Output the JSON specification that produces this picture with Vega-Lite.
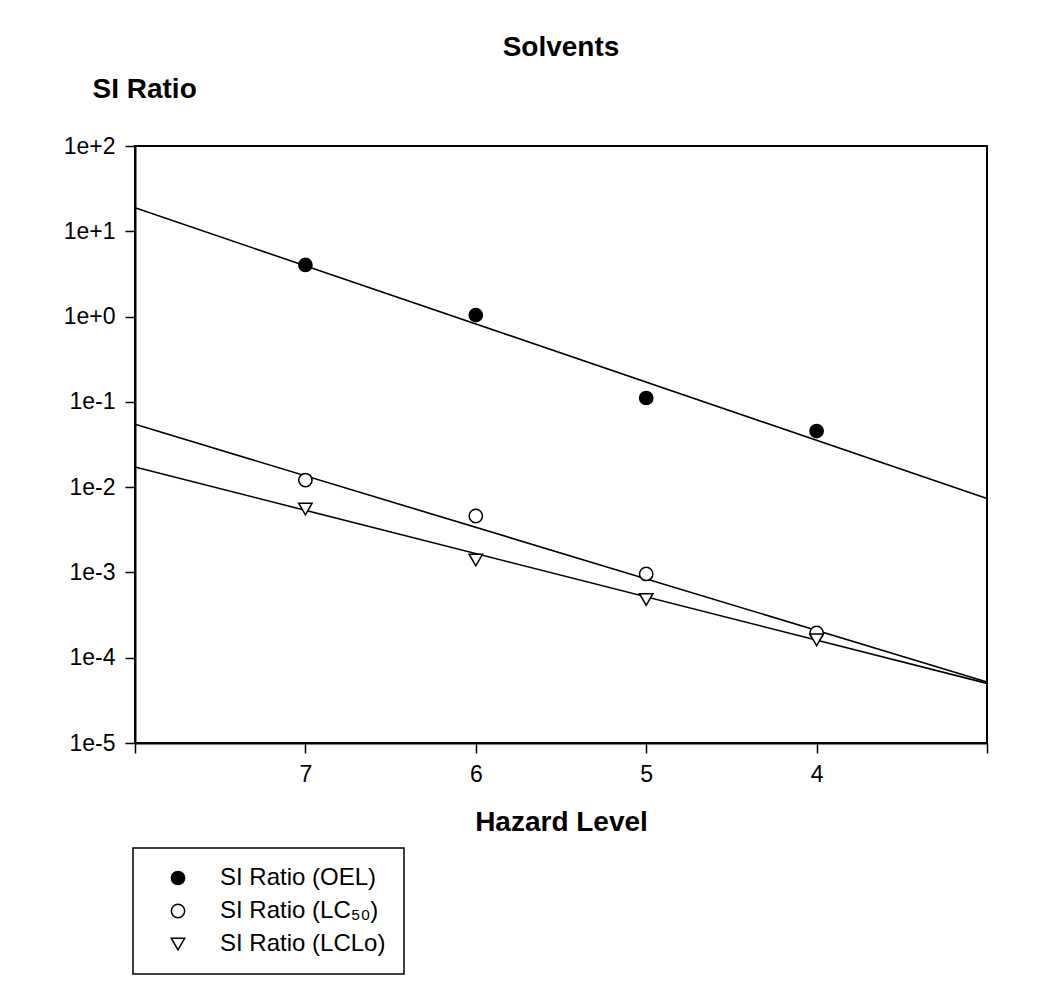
{
  "$schema": "https://vega.github.io/schema/vega-lite/v6.json",
  "width": 852,
  "height": 597,
  "autosize": {"type": "none"},
  "padding": {"left": 135, "top": 146, "right": 55, "bottom": 247},
  "background": "white",
  "title": {
    "text": "Solvents",
    "font": "Liberation Sans",
    "fontSize": 28,
    "fontWeight": "bold",
    "color": "black",
    "anchor": "middle",
    "baseline": "alphabetic",
    "offset": -9
  },
  "datasets": {
    "points": [
      {"hazard": 7, "ratio": 4.03, "series": "SI Ratio (OEL)"},
      {"hazard": 6, "ratio": 1.04, "series": "SI Ratio (OEL)"},
      {"hazard": 5, "ratio": 0.111, "series": "SI Ratio (OEL)"},
      {"hazard": 4, "ratio": 0.0455, "series": "SI Ratio (OEL)"},
      {"hazard": 7, "ratio": 0.0121, "series": "SI Ratio (LC₅₀)"},
      {"hazard": 6, "ratio": 0.00459, "series": "SI Ratio (LC₅₀)"},
      {"hazard": 5, "ratio": 0.00096, "series": "SI Ratio (LC₅₀)"},
      {"hazard": 4, "ratio": 0.000195, "series": "SI Ratio (LC₅₀)"},
      {"hazard": 7, "ratio": 0.00554, "series": "SI Ratio (LCLo)"},
      {"hazard": 6, "ratio": 0.0014, "series": "SI Ratio (LCLo)"},
      {"hazard": 5, "ratio": 0.000482, "series": "SI Ratio (LCLo)"},
      {"hazard": 4, "ratio": 0.000162, "series": "SI Ratio (LCLo)"}
    ],
    "fits": [
      {"hazard": 8, "ratio": 18.9, "series": "OEL"},
      {"hazard": 3, "ratio": 0.00738, "series": "OEL"},
      {"hazard": 8, "ratio": 0.0546, "series": "LC50"},
      {"hazard": 3, "ratio": 0.000052, "series": "LC50"},
      {"hazard": 8, "ratio": 0.0172, "series": "LCLo"},
      {"hazard": 3, "ratio": 0.00005, "series": "LCLo"}
    ]
  },
  "encoding": {
    "x": {
      "field": "hazard",
      "type": "quantitative",
      "scale": {"domain": [3, 8], "reverse": true, "nice": false, "zero": false},
      "axis": {
        "title": "Hazard Level",
        "values": [8, 7, 6, 5, 4, 3],
        "labelExpr": "datum.value == 8 || datum.value == 3 ? '' : datum.label",
        "tickSize": 10,
        "labelPadding": 10,
        "titlePadding": 22
      }
    },
    "y": {
      "field": "ratio",
      "type": "quantitative",
      "scale": {"type": "log", "domain": [0.00001, 100], "nice": false},
      "axis": {
        "title": "SI Ratio",
        "values": [0.00001, 0.0001, 0.001, 0.01, 0.1, 1, 10, 100],
        "labelExpr": "format(datum.value, '.0e')",
        "tickSize": 10,
        "labelPadding": 10,
        "titleAngle": 0,
        "titleAlign": "left",
        "titleBaseline": "alphabetic",
        "titleX": -43,
        "titleY": -49
      }
    }
  },
  "layer": [
    {
      "data": {"name": "fits"},
      "mark": {"type": "line", "color": "black", "strokeWidth": 1.6},
      "encoding": {"detail": {"field": "series"}}
    },
    {
      "data": {"name": "points"},
      "mark": {"type": "point", "stroke": "black", "strokeWidth": 1.5, "opacity": 1},
      "encoding": {
        "shape": {
          "field": "series",
          "type": "nominal",
          "scale": {
            "domain": ["SI Ratio (OEL)", "SI Ratio (LC₅₀)", "SI Ratio (LCLo)"],
            "range": ["circle", "circle", "triangle-down"]
          },
          "legend": {
            "title": null,
            "orient": "none",
            "legendX": -2,
            "legendY": 702,
            "padding": 18,
            "symbolOffset": 15,
            "labelOffset": 30,
            "rowPadding": 9,
            "symbolStrokeWidth": 1.5,
            "symbolStrokeColor": "black",
            "labelFont": "Liberation Sans",
            "labelFontSize": 24,
            "labelColor": "black",
            "labelLimit": 400,
            "strokeColor": "black",
            "fillColor": "white",
            "encode": {
              "symbols": {
                "update": {
                  "stroke": {"value": "black"},
                  "strokeWidth": {"value": 1.5},
                  "opacity": {"value": 1}
                }
              }
            }
          }
        },
        "fill": {
          "field": "series",
          "type": "nominal",
          "scale": {
            "domain": ["SI Ratio (OEL)", "SI Ratio (LC₅₀)", "SI Ratio (LCLo)"],
            "range": ["black", "white", "white"]
          }
        },
        "size": {
          "field": "series",
          "type": "nominal",
          "scale": {
            "domain": ["SI Ratio (OEL)", "SI Ratio (LC₅₀)", "SI Ratio (LCLo)"],
            "range": [175, 180, 250]
          }
        }
      }
    }
  ],
  "config": {
    "view": {"stroke": "black", "strokeWidth": 2},
    "font": "Liberation Sans",
    "axis": {
      "grid": false,
      "domainColor": "black",
      "domainWidth": 2,
      "tickColor": "black",
      "tickWidth": 1.5,
      "labelFont": "Liberation Sans",
      "labelFontSize": 23,
      "labelColor": "black",
      "titleFont": "Liberation Sans",
      "titleFontSize": 28,
      "titleFontWeight": "bold",
      "titleColor": "black"
    },
    "legend": {"strokeWidth": 1.5}
  }
}
